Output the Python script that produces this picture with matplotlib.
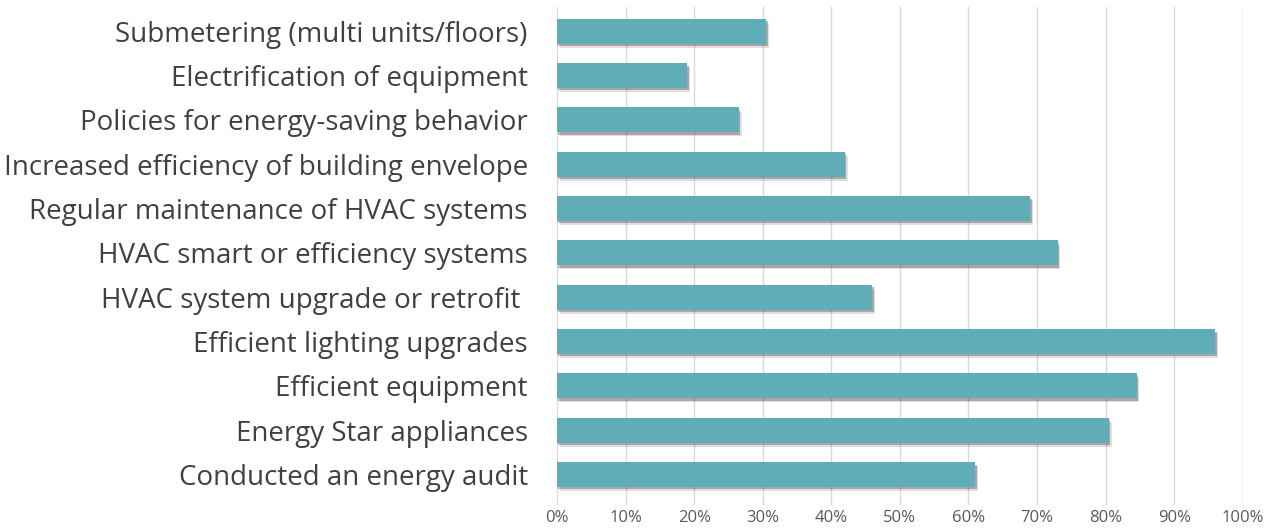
import matplotlib
matplotlib.use("Agg")
import matplotlib.pyplot as plt
import matplotlib.patheffects as pe
import numpy as np

# Measures, listed top to bottom
measures = [
    "Submetering (multi units/floors)",
    "Electrification of equipment",
    "Policies for energy-saving behavior",
    "Increased efficiency of building envelope",
    "Regular maintenance of HVAC systems",
    "HVAC smart or efficiency systems",
    "HVAC system upgrade or retrofit ",
    "Efficient lighting upgrades",
    "Efficient equipment",
    "Energy Star appliances",
    "Conducted an energy audit",
]
shares = [30.5, 19.0, 26.5, 42.0, 69.0, 73.0, 46.0, 96.0, 84.5, 80.5, 61.0]
x_ticks = [0, 10, 20, 30, 40, 50, 60, 70, 80, 90, 100]
x_tick_labels = [f"{t}%" for t in x_ticks]

plt.rcParams["font.family"] = ["Open Sans", "DejaVu Sans"]

fig = plt.figure(figsize=(12.76, 5.29), dpi=100)
ax = fig.add_axes([0.4365, 0.046, 0.974 - 0.4365, 0.941])

y = np.arange(len(measures))
bars = ax.barh(y, shares, height=0.56, color="#5fadb6", zorder=3)
for b in bars:
    b.set_path_effects([
        pe.SimplePatchShadow(offset=(2.0, -3.0), shadow_rgbFace="#5a4a52", alpha=0.18),
        pe.SimplePatchShadow(offset=(1.0, -1.8), shadow_rgbFace="#4a3a42", alpha=0.35),
        pe.Normal(),
    ])

ax.set_xlim(0, 100)
ax.set_ylim(len(measures) - 0.32, -0.55)
ax.set_yticks(y)
ax.set_yticklabels(measures, fontsize=20, color="#404040")
ax.set_xticks(x_ticks)
ax.set_xticklabels(x_tick_labels, fontsize=12, color="#595959")
ax.tick_params(axis="y", length=0, pad=21)
ax.tick_params(axis="x", length=0, pad=4)
ax.grid(axis="x", color="#d9d9d9", linewidth=1, zorder=0)
for s in ax.spines.values():
    s.set_visible(False)

fig.savefig("out.png", dpi=100, facecolor="white")
